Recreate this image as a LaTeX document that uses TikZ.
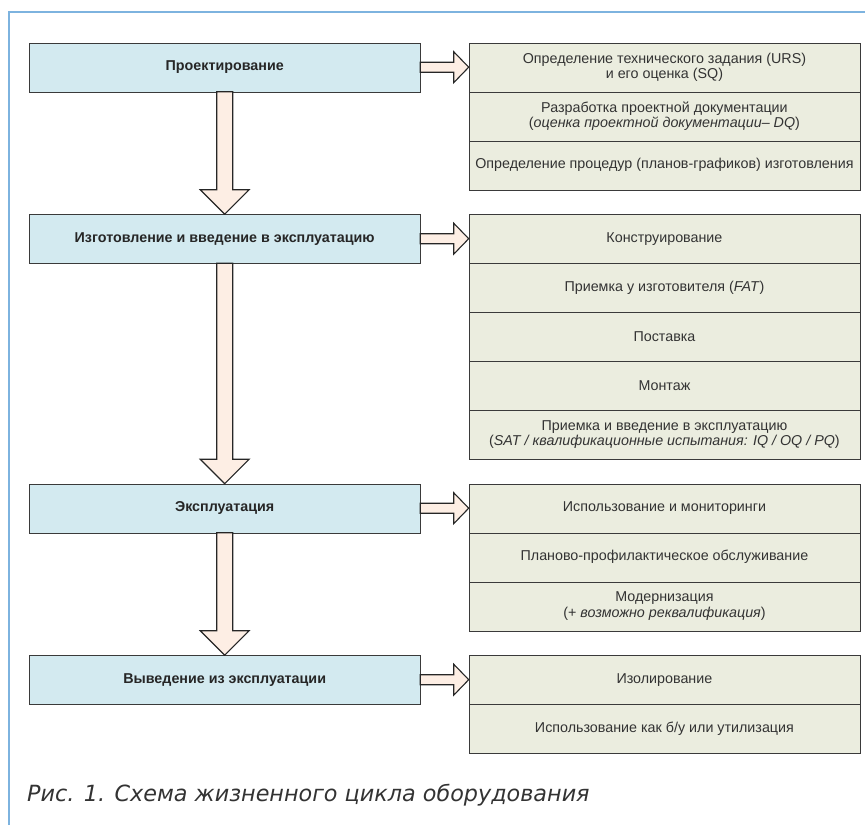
\documentclass[tikz,border=0pt]{standalone}
\usepackage{fontspec}
\setmainfont{Liberation Sans}
\newfontfamily\captionfont{DejaVu Sans}
\usetikzlibrary{positioning, calc}

\definecolor{phasefill}{HTML}{D3EAF0}
\definecolor{stepfill}{HTML}{EBEDDF}
\definecolor{arrowfill}{HTML}{FDEEE4}
\definecolor{framecol}{HTML}{7DB3DF}
\definecolor{edgecol}{HTML}{3A3A3A}

\begin{document}
\begin{tikzpicture}[
  x=1pt, y=-1pt,
  node distance=0pt and 48.5pt,
  phase/.style={draw=edgecol, fill=phasefill, minimum width=391pt, minimum height=49pt,
                outer sep=0pt, inner sep=0pt, text=black!85,
                font=\fontsize{14.3}{16}\selectfont\bfseries},
  stepbox/.style={draw=edgecol, fill=stepfill, minimum width=391.5pt, minimum height=49pt,
                  outer sep=0pt, inner sep=0pt, align=center, text=black!80,
                  font=\fontsize{14.3}{15.5}\selectfont},
  fatarrow/.style={draw=black!85, fill=arrowfill, line width=1.1pt, line join=miter}
]
\useasboundingbox (0,0) rectangle (865,825);
\draw[framecol, line width=1.5pt] (9,825) -- (9,12) -- (865,12);

% phases
\node[phase] (ph1) at (224.7,67.2) {Проектирование};
\node[phase, below=122.5pt of ph1] (ph2) {Изготовление и введение в эксплуатацию};
\node[phase, below=220.5pt of ph2] (ph3) {Эксплуатация};
\node[phase, below=122.5pt of ph3] (ph4) {Выведение из эксплуатации};

% steps
\node[stepbox, right=of ph1] (s11) {Определение технического задания (URS)\\и его оценка (SQ)};
\node[stepbox, below=of s11] (s12) {Разработка проектной документации\\(\textit{оценка проектной документации– DQ})};
\node[stepbox, below=of s12] (s13) {Определение процедур (планов-графиков) изготовления};

\node[stepbox, right=of ph2] (s21) {Конструирование};
\node[stepbox, below=of s21] (s22) {Приемка у изготовителя (\textit{FAT})};
\node[stepbox, below=of s22] (s23) {Поставка};
\node[stepbox, below=of s23] (s24) {Монтаж};
\node[stepbox, below=of s24] (s25) {Приемка и введение в эксплуатацию\\(\textit{SAT / квалификационные испытания: IQ / OQ / PQ})};

\node[stepbox, right=of ph3] (s31) {Использование и мониторинги};
\node[stepbox, below=of s31] (s32) {Планово-профилактическое обслуживание};
\node[stepbox, below=of s32] (s33) {Модернизация\\(+ \textit{возможно реквалификация})};

\node[stepbox, right=of ph4] (s41) {Изолирование};
\node[stepbox, below=of s41] (s42) {Использование как б/у или утилизация};

% arrows
\foreach \a/\b in {ph1/ph2, ph2/ph3, ph3/ph4}
  \draw[fatarrow] ($(\a.south)+(-8,0)$) -- ($(\b.north)+(-8,-24.5)$) -- ($(\b.north)+(-24.5,-24.5)$)
    -- (\b.north) -- ($(\b.north)+(24.5,-24.5)$) -- ($(\b.north)+(8,-24.5)$) -- ($(\a.south)+(8,0)$) -- cycle;
\foreach \n in {1,...,4}
  \draw[fatarrow] ($(ph\n.east)+(0,-5)$) -- ($(s\n1.west)+(-15,-5)$) -- ($(s\n1.west)+(-15,-15.5)$)
    -- (s\n1.west) -- ($(s\n1.west)+(-15,15.5)$) -- ($(s\n1.west)+(-15,5)$) -- ($(ph\n.east)+(0,5)$) -- cycle;

\node[anchor=base west, inner sep=0pt, text=black!80, font=\captionfont\fontsize{22.3}{27}\selectfont\itshape]
  (caption) at (27,801.5) {Рис. 1. Схема жизненного цикла оборудования};
\end{tikzpicture}
\end{document}
